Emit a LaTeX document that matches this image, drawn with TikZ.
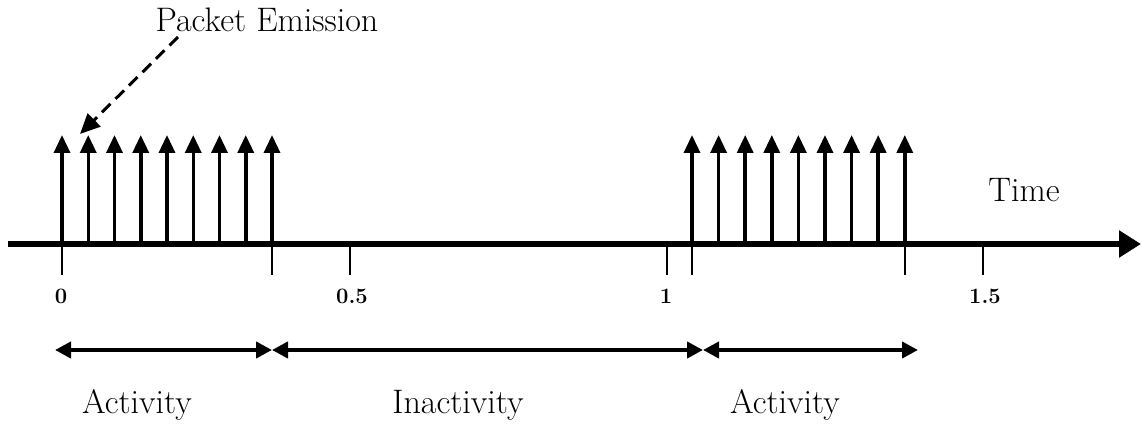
\documentclass[tikz,border=0pt]{standalone}
\usepackage{tikz}
\usetikzlibrary{arrows.meta, positioning}

\tikzset{
  axisline/.style={line width=3pt, -{Triangle[length=11pt,width=13pt]}},
  packet/.style={line width=1.75pt, -{Triangle[length=9pt,width=8pt]}},
  timetick/.style={line width=1pt},
  span/.style={line width=2pt, {Triangle[length=8pt,width=8pt]}-{Triangle[length=8pt,width=8pt]}},
  pointer/.style={line width=1.5pt, dash pattern=on 6pt off 3.5pt, -{Triangle[length=10pt,width=9pt]}},
  label/.style={font=\fontsize{17}{20}\selectfont},
  ticklabel/.style={font=\fontsize{11}{13}\selectfont\bfseries}
}

\begin{document}
\begin{tikzpicture}[x=0.5pt, y=-0.5pt]
        \useasboundingbox (0,0) rectangle (1142,427);
        % Time axis
        \coordinate (origin) at (8,244);
        \coordinate (axisend) at (1141,244);
        \draw [axisline] (origin) -- (axisend);
        \node [label] (time) at (1024,190) {Time};
        % Ticks
        \foreach \name/\x in {t0/62, ta/272, t05/350, t1/667, tb/692, tc/905, t15/983} {
            \coordinate (\name) at (\x,244);
            \draw [timetick] (\name) -- ++(0,31);
        }
        \node [ticklabel] (l0) at (61,296) {0};
        \node [ticklabel] (l05) at (352,296) {0.5};
        \node [ticklabel] (l1) at (666,296) {1};
        \node [ticklabel] (l15) at (985,296) {1.5};
        % % Packets
        \foreach \i in {0,...,8} {
            \coordinate (p\i) at ({62+\i*26.25},244);
            \draw [packet] (p\i) -- ++(0,-109);
            \coordinate (q\i) at ({692+\i*26.6},244);
            \draw [packet] (q\i) -- ++(0,-109);
        }
        \node [label] (emission) at (267,20) {Packet Emission};
        \coordinate (from) at (178,37);
        \coordinate (to) at (80,134);
        \draw [pointer] (from) -- (to);
        % Periods
        \coordinate (s0) at (55,350);
        \coordinate (s1) at (272,350);
        \coordinate (s2) at (703,350);
        \coordinate (s3) at (918,350);
        \draw [span] (s0) -- (s1);
        \draw [span] (s1) -- (s2);
        \draw [span] (s2) -- (s3);
        \node [label] (act1) at (137,405) {Activity};
        \node [label] (inact) at (458,405) {Inactivity};
        \node [label] (act2) at (785,405) {Activity};
    \end{tikzpicture}
\end{document}
